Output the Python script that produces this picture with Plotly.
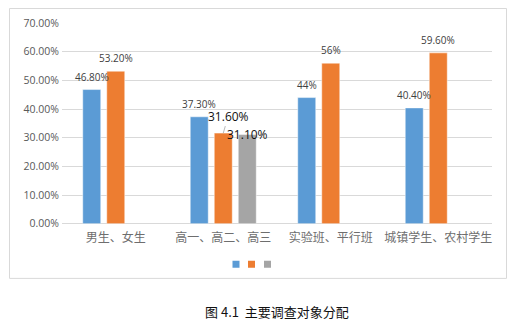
import plotly.graph_objects as go

# Survey subject distribution (percent)
categories = ["男生、女生", "高一、高二、高三", "实验班、平行班", "城镇学生、农村学生"]
series1 = [46.8, 37.3, 44.0, 40.4]
series2 = [53.2, 31.6, 56.0, 59.6]
series3 = [None, 31.1, None, None]
labels1 = ["46.80%", "37.30%", "44%", "40.40%"]
labels2 = ["53.20%", "31.60%", "56%", "59.60%"]
labels3 = [None, "31.10%", None, None]
y_ticks = [0, 10, 20, 30, 40, 50, 60, 70]

colors = ["#5B9BD5", "#ED7D31", "#A5A5A5"]

W, H = 518, 324
# vertical layout helper: top offset and usable height of the page
TOP, USABLE = 6, 309

def px_x(x):
    return x / W
def px_y(y):
    return 1 - (y - TOP) / USABLE

fig = go.Figure()
for vals, col in zip([series1, series2, series3], colors):
    fig.add_trace(go.Bar(
        x=categories, y=vals,
        marker=dict(color=col, line=dict(color="rgba(255,255,255,0.6)", width=0.8)),
        showlegend=False,
    ))

# small square legend keys, one legend box per series
legend_names = ["legend", "legend2", "legend3"]
legend_centres = [239.5, 255, 271]
for col, lg in zip(colors, legend_names):
    fig.add_trace(go.Scatter(
        x=[None], y=[None], mode="markers", name=" ",
        marker=dict(symbol="square", size=7, color=col),
        showlegend=True, legend=lg,
    ))

# data labels above each bar
slot = 24  # pixel distance between bar centres inside a group
annotations = []
for si, labs in enumerate([labels1, labels2, labels3]):
    vals = [series1, series2, series3][si]
    for cat, v, lab in zip(categories, vals, labs):
        if v is None or lab is None:
            continue
        if lab == "31.60%":
            annotations.append(dict(
                x=cat, y=v, xref="x", yref="y", text=lab,
                xshift=(si - 1) * slot, showarrow=True, arrowhead=0,
                arrowwidth=0.8, arrowcolor="#A6A6A6", ax=5, ay=-17,
                font=dict(family="Open Sans, Noto Sans", size=12, color="#111111"),
            ))
        elif lab == "31.10%":
            annotations.append(dict(
                x=cat, y=v, xref="x", yref="y", text=lab,
                xshift=(si - 1) * slot, showarrow=False, yanchor="middle",
                font=dict(family="Open Sans, Noto Sans", size=12, color="#111111"),
            ))
        else:
            annotations.append(dict(
                x=cat, y=v, xref="x", yref="y", text=lab,
                xshift=(si - 1) * slot, yshift=13, showarrow=False,
                yanchor="middle",
                font=dict(family="Open Sans, Noto Sans", size=10, color="#404040"),
            ))

annotations.append(dict(
    x=px_x(277), y=px_y(309.5), xref="paper", yref="paper",
    xanchor="center", yanchor="middle",
    text="图 4.1  主要调查对象分配", showarrow=False,
    font=dict(family="Noto Sans CJK SC", size=13, color="#111111"),
))

legends = {}
for lg, cx in zip(legend_names, legend_centres):
    legends[lg] = dict(
        orientation="h", x=px_x(cx), y=px_y(262.5),
        xanchor="center", yanchor="middle",
        font=dict(size=6), itemwidth=30,
        bgcolor="rgba(0,0,0,0)", borderwidth=0,
    )

fig.update_layout(
    width=W, height=H,
    margin=dict(l=0, r=0, t=0, b=0),
    paper_bgcolor="white", plot_bgcolor="white",
    barmode="group", bargap=0.33, bargroupgap=0.25,
    xaxis=dict(
        domain=[px_x(62), px_x(492)],
        showgrid=False, showline=False, ticks="",
        ticklabelstandoff=5,
        tickfont=dict(family="Noto Sans CJK SC", size=12, color="#6E6E6E"),
    ),
    yaxis=dict(
        domain=[px_y(222), px_y(22)],
        range=[0, 70], tickmode="array", tickvals=y_ticks,
        ticktext=[f"{t:.2f}%" for t in y_ticks],
        showgrid=True, gridcolor="#D9D9D9", gridwidth=1,
        zeroline=True, zerolinecolor="#D9D9D9", zerolinewidth=1,
        showline=False, ticks="",
        ticklabelstandoff=2,
        tickfont=dict(family="Open Sans, Noto Sans", size=10.5, color="#595959"),
    ),
    annotations=annotations,
    shapes=[dict(
        type="rect", xref="paper", yref="paper",
        x0=px_x(9.5), x1=px_x(506.5), y0=px_y(276.5), y1=px_y(7.5),
        line=dict(color="#D9D9D9", width=1), fillcolor="rgba(0,0,0,0)",
    )],
    **legends,
)

fig.write_html("out.html")
